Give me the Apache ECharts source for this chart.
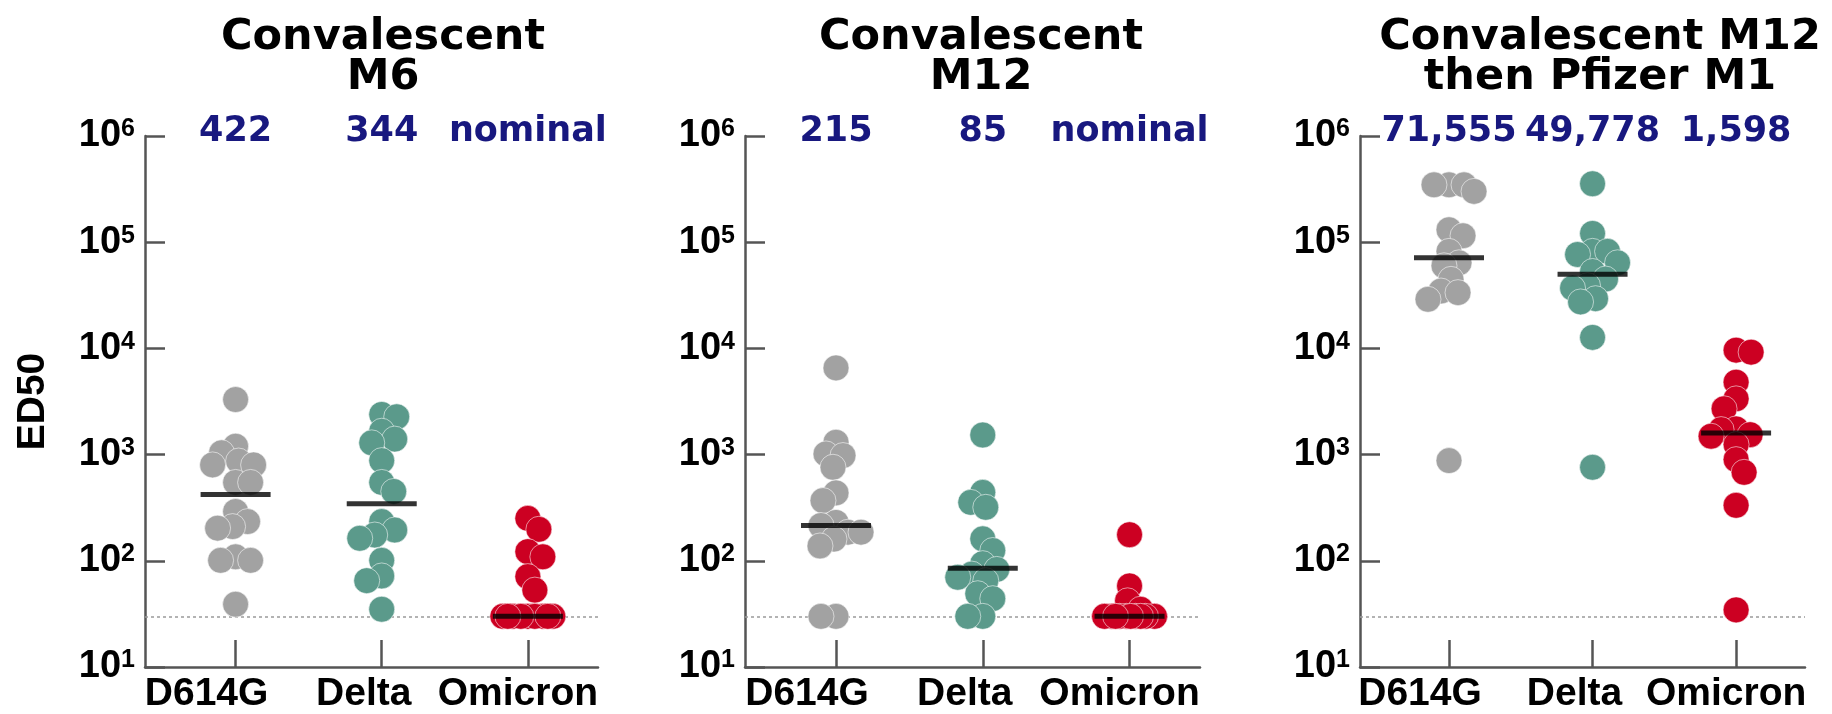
<!DOCTYPE html>
<html><head><meta charset="utf-8">
<script src="https://cdn.jsdelivr.net/npm/echarts@6/dist/echarts.min.js"></script>
<style>html,body{margin:0;padding:0;background:#fff}#c{width:1832px;height:714px}</style>
</head><body><div id="c"></div>
<script>
// ---------- data ----------
const categories = ['D614G', 'Delta', 'Omicron'];
const panelTitles = ['Convalescent\nM6', 'Convalescent\nM12', 'Convalescent M12\nthen Pfizer M1'];
const yTickValues = [10, 100, 1000, 10000, 100000, 1000000];
const limitOfDetection = 30;
const medianLabels = [['422', '344', 'nominal'], ['215', '85', 'nominal'], ['71,555', '49,778', '1,598']];
const medianValues = [[422, 344, 30], [215, 85, 30], [71555, 49778, 1598]];

const m6_D614G = [3300, 1200, 1040, 870, 800, 800, 547, 547, 291, 234, 210, 203, 109, 101, 101, 39];
const m6_Delta = [2390, 2270, 1660, 1400, 1290, 878, 547, 450, 234, 195, 175, 163, 101, 72, 65, 35];
const m6_Omicron = [251, 198, 122, 109, 71, 53, 30, 30, 30, 30, 30, 30, 30, 30, 30];

const m12_D614G = [6550, 1307, 1015, 980, 760, 436, 369, 230, 215, 186, 186, 160, 138, 30, 30];
const m12_Delta = [1530, 441, 355, 319, 161, 125, 94, 83, 75, 70, 65, 49, 44, 30, 30];
const m12_Omicron = [176, 58, 42, 35, 30, 30, 30, 30, 30, 30, 30, 30, 30, 30];

const boost_D614G = [347000, 347000, 347000, 301000, 131000, 115000, 82000, 64000, 60000, 44700, 34700, 33500, 29000, 878];
const boost_Delta = [355000, 121000, 82000, 82000, 76600, 64000, 53000, 45000, 39000, 37000, 29400, 27400, 12700, 760];
const boost_Omicron = [9630, 9220, 4810, 3350, 2700, 1746, 1720, 1540, 1490, 1242, 897, 681, 333, 34.5];

const panelData = [
  [m6_D614G, m6_Delta, m6_Omicron],
  [m12_D614G, m12_Delta, m12_Omicron],
  [boost_D614G, boost_Delta, boost_Omicron]
];

// ---------- styling / layout ----------
const colors = ['#a2a2a2', '#5b9a8b', '#cc0022'];
const grids = [
  { left: 145, top: 136, width: 453, height: 531 },
  { left: 745, top: 136, width: 455, height: 531 },
  { left: 1360, top: 136, width: 445, height: 531 }
];
const titleCenters = [383, 981, 1600];
const labelShift = [58, 36, 20]; // right padding that nudges each category label left
const axisColor = '#555';
const labelFont = 'Liberation Sans';
const heavyFont = 'DejaVu Sans';
const dotSize = 26;

const chart = echarts.init(document.getElementById('c'), null, { renderer: 'canvas' });

const catRich = {};
categories.forEach((c, i) => {
  catRich['c' + i] = { fontSize: 39, fontWeight: 'bold', fontFamily: labelFont, color: '#000', padding: [0, labelShift[i], 0, 0] };
});

const xAxes = grids.map((g, i) => ({
  type: 'value', gridIndex: i, min: 0.38, max: 3.48,
  axisLine: { show: true, lineStyle: { color: axisColor, width: 2.5 } },
  axisTick: { show: true, inside: true, length: 27, customValues: [1, 2, 3], lineStyle: { color: axisColor, width: 2.5 } },
  axisLabel: {
    show: true, customValues: [1, 2, 3], margin: 8,
    formatter: v => { const k = Math.round(v) - 1; return '{c' + k + '|' + categories[k] + '}'; },
    rich: catRich,
    fontSize: 39, fontWeight: 'bold', fontFamily: labelFont, color: '#000'
  },
  splitLine: { show: false }
}));

const yAxes = grids.map((g, i) => ({
  type: 'log', logBase: 10, gridIndex: i, min: 10, max: 1000000,
  name: i === 0 ? 'ED50' : '', nameLocation: 'middle', nameGap: 92, nameRotate: 90,
  nameTextStyle: { fontSize: 39, fontWeight: 'bold', fontFamily: labelFont, color: '#000' },
  axisLine: { show: true, lineStyle: { color: axisColor, width: 2.5 } },
  axisTick: { show: true, inside: true, length: 20, customValues: yTickValues, lineStyle: { color: axisColor, width: 2.5 } },
  axisLabel: {
    show: true, customValues: yTickValues, margin: 10,
    formatter: v => '{b|10}{s|' + Math.round(Math.log10(v)) + '}',
    rich: {
      b: { fontSize: 38, lineHeight: 38, fontWeight: 'bold', fontFamily: labelFont, color: '#000' },
      s: { fontSize: 25, lineHeight: 25, fontWeight: 'bold', fontFamily: labelFont, color: '#000', verticalAlign: 'top' }
    }
  },
  splitLine: { show: false },
  minorTick: { show: false }
}));

const series = [];
panelData.forEach((groups, g) => {
  groups.forEach((vals, c) => {
    series.push({
      id: 'dots-' + g + '-' + c, type: 'scatter', xAxisIndex: g, yAxisIndex: g,
      symbol: 'circle', symbolSize: dotSize, z: 3,
      itemStyle: { color: colors[c], opacity: 1, borderColor: 'rgba(255,255,255,0.55)', borderWidth: 1 },
      data: vals.map(v => [c + 1, v]),
      markLine: c === 0 ? {
        silent: true, symbol: 'none', label: { show: false },
        lineStyle: { color: '#9a9a9a', type: [3, 3], width: 1.5 },
        data: [{ yAxis: limitOfDetection }], z: 1
      } : undefined
    });
  });
  series.push({
    id: 'median-' + g, type: 'scatter', xAxisIndex: g, yAxisIndex: g,
    symbol: 'rect', symbolSize: [70, 5], z: 6,
    itemStyle: { color: '#000' },
    data: medianValues[g].map((v, c) => [c + 1, v])
  });
  series.push({
    id: 'medlabel-' + g, type: 'scatter', xAxisIndex: g, yAxisIndex: g,
    symbol: 'circle', symbolSize: 0, z: 7, clip: false,
    itemStyle: { color: '#18187f', opacity: 1 },
    label: {
      show: true, position: 'inside', offset: [0, -4],
      formatter: p => medianLabels[g][p.dataIndex],
      fontSize: 35, fontWeight: 'bold', fontFamily: heavyFont, color: '#18187f', opacity: 1
    },
    data: [[1, 1000000], [2, 1000000], [3, 1000000]]
  });
});

const graphic = panelTitles.map((t, i) => ({
  type: 'text', x: titleCenters[i], y: 18,
  style: {
    text: t, textAlign: 'center', align: 'center', textVerticalAlign: 'top', verticalAlign: 'top',
    fontSize: 43, fontWeight: 'bold', fontFamily: heavyFont, lineHeight: 40, fill: '#000'
  }
}));

chart.setOption({
  animation: false,
  backgroundColor: '#fff',
  grid: grids,
  xAxis: xAxes,
  yAxis: yAxes,
  series: series,
  graphic: graphic
});

// ---------- beeswarm offsets computed from the axes ----------
const MIN_DIST = 15, MAX_OFF = 25;
const updates = [];
panelData.forEach((groups, g) => {
  const p1 = chart.convertToPixel({ gridIndex: g }, [1, 100]);
  const p2 = chart.convertToPixel({ gridIndex: g }, [2, 100]);
  const unit = p2[0] - p1[0];
  groups.forEach((vals, c) => {
    const order = vals.map((v, i) => i).sort((a, b) => vals[b] - vals[a]);
    const placed = [];
    const out = new Array(vals.length);
    order.forEach((idx, n) => {
      const py = chart.convertToPixel({ gridIndex: g }, [c + 1, vals[idx]])[1];
      let chosen = null, fallback = 0, bestScore = -1;
      outer:
      for (let k = 0; k <= MAX_OFF; k++) {
        const cands = k === 0 ? [0] : (n % 2 ? [k, -k] : [-k, k]);
        for (const s of cands) {
          let md = Infinity;
          for (const p of placed) {
            const d = Math.hypot(p.x - s, p.y - py);
            if (d < md) md = d;
          }
          if (md >= MIN_DIST) { chosen = s; break outer; }
          if (md > bestScore + 0.5) { bestScore = md; fallback = s; }
        }
      }
      const off = chosen === null ? fallback : chosen;
      placed.push({ x: off, y: py });
      out[idx] = [c + 1 + off / unit, vals[idx]];
    });
    updates.push({ id: 'dots-' + g + '-' + c, data: out });
  });
});
chart.setOption({ series: updates });
</script>
</body></html>
